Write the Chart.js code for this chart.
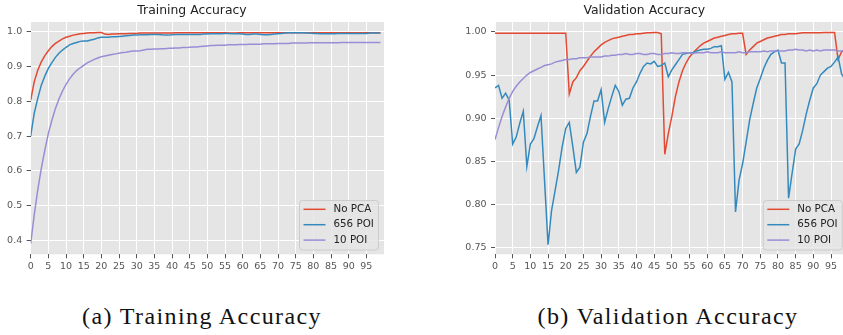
<!DOCTYPE html>
<html><head><meta charset="utf-8">
<script src="https://cdn.jsdelivr.net/npm/chart.js@4.4.0/dist/chart.umd.min.js"></script>
<style>
html,body{margin:0;padding:0;background:#fff;width:843px;height:335px;overflow:hidden;position:relative}
#c1{position:absolute;left:0;top:0}
#c2{position:absolute;left:440px;top:0}
.cap{position:absolute;top:303px;font-family:"Liberation Serif",serif;font-size:24px;color:#111;white-space:nowrap;letter-spacing:1.4px;transform:translateX(-50%)}
</style></head><body>
<canvas id="c1" width="400" height="280"></canvas>
<canvas id="c2" width="410" height="280"></canvas>
<div class="cap" style="left:202px">(a) Training Accuracy</div>
<div class="cap" style="left:668px">(b) Validation Accuracy</div>
<script>
const epochs = [0,1,2,3,4,5,6,7,8,9,10,11,12,13,14,15,16,17,18,19,20,21,22,23,24,25,26,27,28,29,30,31,32,33,34,35,36,37,38,39,40,41,42,43,44,45,46,47,48,49,50,51,52,53,54,55,56,57,58,59,60,61,62,63,64,65,66,67,68,69,70,71,72,73,74,75,76,77,78,79,80,81,82,83,84,85,86,87,88,89,90,91,92,93,94,95,96,97,98,99];
const seriesNames = ["No PCA", "656 POI", "10 POI"];
const seriesColors = ["#E24A33", "#348ABD", "#988ED5"];

// Training accuracy
const trainNoPCA = [0.804,0.857,0.890,0.914,0.932,0.946,0.958,0.967,0.974,0.980,0.985,0.988,0.991,0.993,0.995,0.996,0.997,0.998,0.998,0.9985,0.9985,0.994,0.993,0.994,0.994,0.995,0.995,0.995,0.996,0.996,0.996,0.997,0.997,0.997,0.997,0.997,0.997,0.997,0.997,0.997,0.997,0.998,0.998,0.998,0.998,0.998,0.998,0.998,0.998,0.998,0.998,0.998,0.998,0.998,0.998,0.998,0.997,0.997,0.997,0.998,0.998,0.998,0.998,0.998,0.998,0.998,0.998,0.998,0.998,0.998,0.998,0.998,0.998,0.998,0.998,0.998,0.998,0.998,0.998,0.998,0.998,0.998,0.998,0.998,0.998,0.998,0.998,0.998,0.998,0.998,0.998,0.998,0.998,0.998,0.998,0.998,0.998,0.998,0.998,0.998];
const train656 = [0.700,0.766,0.809,0.847,0.873,0.895,0.912,0.927,0.939,0.948,0.956,0.963,0.967,0.970,0.973,0.974,0.974,0.977,0.979,0.983,0.985,0.985,0.985,0.986,0.986,0.987,0.988,0.989,0.990,0.991,0.991,0.992,0.992,0.992,0.993,0.993,0.993,0.992,0.991,0.991,0.992,0.993,0.993,0.993,0.993,0.993,0.993,0.993,0.993,0.994,0.994,0.995,0.995,0.995,0.995,0.996,0.996,0.995,0.995,0.995,0.994,0.993,0.993,0.994,0.994,0.993,0.992,0.992,0.993,0.994,0.995,0.996,0.997,0.998,0.998,0.998,0.998,0.998,0.997,0.997,0.996,0.996,0.995,0.995,0.995,0.995,0.995,0.996,0.996,0.996,0.996,0.996,0.996,0.996,0.996,0.996,0.997,0.997,0.997,0.997];
const train10 = [0.390,0.473,0.545,0.607,0.660,0.708,0.746,0.780,0.807,0.830,0.849,0.865,0.878,0.889,0.897,0.904,0.911,0.916,0.921,0.925,0.929,0.931,0.933,0.935,0.937,0.939,0.941,0.942,0.944,0.945,0.945,0.946,0.948,0.950,0.950,0.951,0.951,0.952,0.952,0.953,0.953,0.954,0.954,0.955,0.955,0.956,0.957,0.957,0.958,0.959,0.960,0.961,0.961,0.962,0.962,0.962,0.963,0.963,0.963,0.964,0.964,0.964,0.965,0.965,0.965,0.965,0.966,0.966,0.966,0.966,0.967,0.967,0.967,0.967,0.968,0.968,0.968,0.968,0.968,0.969,0.969,0.969,0.969,0.969,0.969,0.969,0.969,0.969,0.970,0.970,0.970,0.970,0.970,0.970,0.970,0.970,0.970,0.970,0.970,0.970];

// Validation accuracy
const valNoPCA = [0.9985,0.9985,0.9985,0.9985,0.9985,0.9985,0.9985,0.9985,0.9985,0.9985,0.9985,0.9985,0.9985,0.9985,0.9985,0.9985,0.9985,0.9985,0.9985,0.9985,0.9985,0.928,0.942,0.947,0.955,0.960,0.966,0.972,0.977,0.981,0.985,0.988,0.990,0.992,0.993,0.994,0.995,0.996,0.997,0.997,0.998,0.998,0.9985,0.999,0.999,0.9995,0.9995,0.998,0.858,0.882,0.902,0.925,0.942,0.955,0.964,0.971,0.976,0.980,0.984,0.987,0.989,0.991,0.993,0.994,0.995,0.996,0.997,0.998,0.998,0.9985,0.9985,0.974,0.979,0.983,0.987,0.989,0.991,0.993,0.994,0.995,0.996,0.997,0.997,0.998,0.998,0.998,0.9985,0.999,0.999,0.999,0.999,0.999,0.999,0.9995,0.9995,0.9995,0.9995,0.968,0.977,0.980];
const val656 = [0.935,0.938,0.923,0.929,0.921,0.870,0.878,0.894,0.908,0.844,0.870,0.876,0.890,0.903,0.828,0.753,0.793,0.816,0.840,0.867,0.888,0.895,0.867,0.837,0.843,0.872,0.882,0.902,0.920,0.920,0.933,0.895,0.911,0.925,0.938,0.931,0.915,0.922,0.923,0.935,0.942,0.952,0.960,0.964,0.963,0.966,0.960,0.961,0.964,0.948,0.956,0.962,0.968,0.974,0.975,0.976,0.976,0.978,0.979,0.980,0.980,0.981,0.983,0.983,0.984,0.945,0.953,0.942,0.791,0.828,0.847,0.872,0.898,0.917,0.935,0.946,0.958,0.967,0.974,0.977,0.979,0.964,0.964,0.807,0.836,0.864,0.870,0.886,0.905,0.921,0.935,0.940,0.950,0.954,0.958,0.960,0.965,0.971,0.951,0.945];
const val10 = [0.875,0.889,0.902,0.913,0.923,0.931,0.937,0.942,0.946,0.950,0.953,0.955,0.957,0.959,0.961,0.962,0.963,0.965,0.966,0.967,0.968,0.968,0.969,0.969,0.970,0.970,0.970,0.971,0.971,0.971,0.971,0.972,0.972,0.973,0.973,0.974,0.974,0.975,0.974,0.974,0.975,0.975,0.974,0.974,0.975,0.975,0.974,0.974,0.975,0.975,0.976,0.975,0.975,0.976,0.976,0.976,0.975,0.976,0.976,0.976,0.977,0.976,0.976,0.976,0.977,0.976,0.976,0.976,0.976,0.977,0.976,0.976,0.977,0.977,0.977,0.977,0.978,0.977,0.978,0.978,0.978,0.978,0.978,0.979,0.979,0.980,0.979,0.979,0.978,0.979,0.978,0.979,0.978,0.979,0.979,0.979,0.979,0.978,0.978,0.978];

const xTicks = [0,5,10,15,20,25,30,35,40,45,50,55,60,65,70,75,80,85,90,95];
const yTicksTrain = [0.4,0.5,0.6,0.7,0.8,0.9,1.0];
const yTicksVal = [0.75,0.80,0.85,0.90,0.95,1.00];

const bgPlugin = {
  id: 'ggBg',
  beforeDraw(chart) {
    const {ctx, chartArea: a} = chart;
    ctx.save();
    ctx.fillStyle = '#E5E5E5';
    ctx.fillRect(a.left, a.top, a.right - a.left, a.bottom - a.top);
    ctx.restore();
  }
};

const legendPlugin = {
  id: 'ggLegend',
  afterDatasetsDraw(chart, args, o) {
    const {ctx, chartArea: a} = chart;
    const w = o.width, h = o.height;
    const x = a.right - o.marginRight - w, y = a.bottom - o.marginBottom - h;
    ctx.save();
    ctx.beginPath();
    const r = 3;
    ctx.moveTo(x + r, y);
    ctx.lineTo(x + w - r, y); ctx.quadraticCurveTo(x + w, y, x + w, y + r);
    ctx.lineTo(x + w, y + h - r); ctx.quadraticCurveTo(x + w, y + h, x + w - r, y + h);
    ctx.lineTo(x + r, y + h); ctx.quadraticCurveTo(x, y + h, x, y + h - r);
    ctx.lineTo(x, y + r); ctx.quadraticCurveTo(x, y, x + r, y);
    ctx.closePath();
    ctx.fillStyle = 'rgba(229,229,229,0.8)';
    ctx.fill();
    ctx.strokeStyle = '#CCCCCC';
    ctx.lineWidth = 1;
    ctx.stroke();
    ctx.font = '10.3px "DejaVu Sans"';
    ctx.textBaseline = 'middle';
    ctx.textAlign = 'left';
    chart.data.datasets.forEach((ds, i) => {
      const cy = y + o.firstRow + i * o.rowGap;
      ctx.beginPath();
      ctx.strokeStyle = ds.borderColor;
      ctx.lineWidth = 1.5;
      ctx.moveTo(x + o.lineX, cy);
      ctx.lineTo(x + o.lineX + o.lineLen, cy);
      ctx.stroke();
      ctx.fillStyle = '#222';
      ctx.fillText(ds.label, x + o.textX, cy);
    });
    ctx.restore();
  }
};

function makeChart(id, title, series, yTicks, yMin, yMax, yDecimals, yWidth, padRight, legendMarginRight) {
  const datasets = series.map((vals, i) => ({
    label: seriesNames[i],
    data: vals.map((v, k) => ({x: epochs[k], y: v})),
    borderColor: seriesColors[i],
    backgroundColor: seriesColors[i],
    borderWidth: 1.5,
    pointRadius: 0,
    tension: 0,
    fill: false,
    order: 2 - i
  }));
  return new Chart(document.getElementById(id), {
    type: 'line',
    data: {datasets},
    plugins: [bgPlugin, legendPlugin],
    options: {
      responsive: false,
      animation: false,
      devicePixelRatio: 1,
      layout: {padding: {left: 0, right: padRight, top: 0, bottom: 0}},
      plugins: {
        legend: {display: false},
        tooltip: {enabled: false},
        title: {
          display: true, text: title, color: '#222',
          font: {family: 'DejaVu Sans', size: 12.4, weight: 'normal', lineHeight: 1.2},
          padding: {top: 3, bottom: 4.12}
        },
        ggLegend: {width: 79, height: 49.5, marginRight: legendMarginRight, marginBottom: 4.3,
                   lineX: 4, lineLen: 22, textX: 34, firstRow: 8.8, rowGap: 15.4}
      },
      scales: {
        x: {
          type: 'linear', min: 0, max: 100,
          afterFit(s) { s.height = 25.7; },
          afterBuildTicks(s) { s.ticks = xTicks.map(v => ({value: v})); },
          grid: {color: '#FFFFFF', lineWidth: 1, tickColor: '#555555', tickLength: 4, drawTicks: true},
          border: {display: false},
          ticks: {color: '#555555', font: {family: 'DejaVu Sans', size: 9.5}, padding: 2.7,
                  maxRotation: 0, autoSkip: false, callback: v => String(v)}
        },
        y: {
          type: 'linear', min: yMin, max: yMax,
          afterFit(s) { s.width = yWidth; },
          afterBuildTicks(s) { s.ticks = yTicks.map(v => ({value: v})); },
          grid: {color: '#FFFFFF', lineWidth: 1, tickColor: '#555555', tickLength: 4, drawTicks: true},
          border: {display: false},
          ticks: {color: '#555555', font: {family: 'DejaVu Sans', size: 9.5}, padding: 4.5,
                  autoSkip: false, callback: v => Number(v).toFixed(yDecimals)}
        }
      }
    }
  });
}

makeChart('c1', 'Training Accuracy', [trainNoPCA, train656, train10], yTicksTrain, 0.3597, 1.0288, 1, 30.7, 16, 5.5);
makeChart('c2', 'Validation Accuracy', [valNoPCA, val656, val10], yTicksVal, 0.7419, 1.0116, 2, 55, 1.3, 6.4);
</script>
</body></html>
